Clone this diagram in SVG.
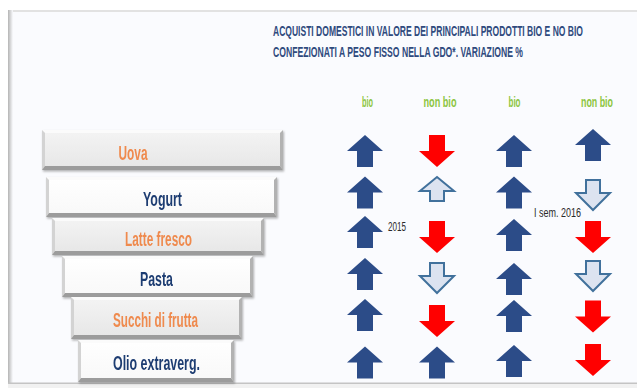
<svg xmlns="http://www.w3.org/2000/svg" width="637" height="388" viewBox="0 0 637 388">
  <defs>
    <linearGradient id="leftShade" x1="0" y1="0" x2="1" y2="0">
      <stop offset="0" stop-color="#b4b4b4"/>
      <stop offset="1" stop-color="#fafbfe"/>
    </linearGradient>
    <linearGradient id="faceGray" x1="0" y1="0" x2="0" y2="1">
      <stop offset="0" stop-color="#f4f4f4"/>
      <stop offset="1" stop-color="#e6e6e6"/>
    </linearGradient>
    <linearGradient id="faceWhite" x1="0" y1="0" x2="0" y2="1">
      <stop offset="0" stop-color="#ffffff"/>
      <stop offset="1" stop-color="#f8f8f8"/>
    </linearGradient>
    <filter id="soft" x="-5%" y="-10%" width="112%" height="130%">
      <feDropShadow dx="1" dy="1.5" stdDeviation="1" flood-color="#000" flood-opacity="0.3"/>
    </filter>
    <!-- arrow shapes, centred on the origin -->
    <path id="upSolid" d="M0,-16 L18,0 L8,0 L8,16 L-8,16 L-8,0 L-18,0 Z"/>
    <path id="downSolid" d="M0,16 L18,0 L8,0 L8,-16 L-8,-16 L-8,0 L-18,0 Z"/>
    <path id="upOutline" d="M0,-12 L17,2 L7,2 L7,12 L-7,12 L-7,2 L-17,2 Z"/>
    <path id="downOutline" d="M-7,-15 L7,-15 L7,-2 L17,-2 L0,15 L-17,-2 L-7,-2 Z"/>
  </defs>
  <style>
    .title { font-family: "Liberation Sans", Arial, sans-serif; font-size: 14.5px; font-weight: bold; fill: #2f4a7d; }
    .head { font-family: "Liberation Sans", Arial, sans-serif; font-size: 15px; font-weight: bold; fill: #8cc540; text-anchor: middle; }
    .lbl { font-family: "Liberation Sans", Arial, sans-serif; font-size: 20px; font-weight: bold; text-anchor: middle; }
    .orange { fill: #ef8a4e; }
    .navy { fill: #1f3d72; }
    .year { font-family: "Liberation Sans", Arial, sans-serif; font-size: 12.5px; fill: #2a2a2a; }
    .bTop { fill: #fbfbfb; }
    .bLeft { fill: #d3d3d3; }
    .bRight { fill: #b2b2b2; }
    .bBot { fill: #9c9c9c; }
    .up { fill: #2c4c88; }
    .down { fill: #ff0000; }
    .hollow { fill: #dce3f0; stroke: #41719c; stroke-width: 2; stroke-linejoin: miter; }
  </style>

  <!-- page and panel -->
  <rect x="0" y="0" width="637" height="388" fill="#ffffff"/>
  <rect x="8" y="10" width="629" height="374" fill="#fafbfe"/>
  <rect x="8" y="10" width="629" height="2" fill="#e2e2e2"/>
  <rect x="8" y="10" width="5" height="374" fill="url(#leftShade)"/>
  <rect x="8" y="382.5" width="629" height="1.5" fill="#c4c4c4"/>
  <rect x="8" y="384" width="629" height="4" fill="#f1f1f1"/>

  <!-- heading, squeezed horizontally -->
  <g id="title">
    <text class="title" transform="translate(273,36) scale(0.5,1)" x="0" y="0" textLength="620" lengthAdjust="spacingAndGlyphs">ACQUISTI DOMESTICI IN VALORE DEI PRINCIPALI  PRODOTTI BIO E NO BIO</text>
    <text class="title" transform="translate(273,57) scale(0.5,1)" x="0" y="0" textLength="500" lengthAdjust="spacingAndGlyphs">CONFEZIONATI A PESO FISSO NELLA GDO*.  VARIAZIONE %</text>
  </g>

  <!-- column headers -->
  <g id="headers">
    <text class="head" x="367.5" y="107" textLength="11" lengthAdjust="spacingAndGlyphs">bio</text>
    <text class="head" x="440" y="107" textLength="33" lengthAdjust="spacingAndGlyphs">non bio</text>
    <text class="head" x="514.5" y="107" textLength="12" lengthAdjust="spacingAndGlyphs">bio</text>
    <text class="head" x="597" y="107" textLength="32" lengthAdjust="spacingAndGlyphs">non bio</text>
  </g>

  <!-- product boxes -->
  <g id="uova" filter="url(#soft)">
    <rect x="42" y="130" width="241" height="40" fill="url(#faceGray)"/>
    <polygon class="bTop" points="42,130 283,130 280,133 45,133"/>
    <polygon class="bLeft" points="42,130 45,133 45,166 42,170"/>
    <polygon class="bRight" points="283,130 283,170 280,166 280,133"/>
    <polygon class="bBot" points="42,170 283,170 280,166 45,166"/>
    <text class="lbl orange" x="133" y="160" textLength="29" lengthAdjust="spacingAndGlyphs">Uova</text>
  </g>
  <g id="yogurt" filter="url(#soft)">
    <rect x="46" y="177" width="231" height="40" fill="url(#faceWhite)"/>
    <polygon class="bTop" points="46,177 277,177 274,180 49,180"/>
    <polygon class="bLeft" points="46,177 49,180 49,213 46,217"/>
    <polygon class="bRight" points="277,177 277,217 274,213 274,180"/>
    <polygon class="bBot" points="46,217 277,217 274,213 49,213"/>
    <text class="lbl navy" x="162.5" y="206" textLength="39" lengthAdjust="spacingAndGlyphs">Yogurt</text>
  </g>
  <g id="latte-fresco" filter="url(#soft)">
    <rect x="52" y="218" width="212" height="37" fill="url(#faceGray)"/>
    <polygon class="bTop" points="52,218 264,218 261,221 55,221"/>
    <polygon class="bLeft" points="52,218 55,221 55,251 52,255"/>
    <polygon class="bRight" points="264,218 264,255 261,251 261,221"/>
    <polygon class="bBot" points="52,255 264,255 261,251 55,251"/>
    <text class="lbl orange" x="158.5" y="246" textLength="67" lengthAdjust="spacingAndGlyphs">Latte fresco</text>
  </g>
  <g id="pasta" filter="url(#soft)">
    <rect x="62" y="256" width="191" height="41" fill="url(#faceWhite)"/>
    <polygon class="bTop" points="62,256 253,256 250,259 65,259"/>
    <polygon class="bLeft" points="62,256 65,259 65,293 62,297"/>
    <polygon class="bRight" points="253,256 253,297 250,293 250,259"/>
    <polygon class="bBot" points="62,297 253,297 250,293 65,293"/>
    <text class="lbl navy" x="156.5" y="286" textLength="33" lengthAdjust="spacingAndGlyphs">Pasta</text>
  </g>
  <g id="succhi-di-frutta" filter="url(#soft)">
    <rect x="71" y="297" width="171" height="42" fill="url(#faceGray)"/>
    <polygon class="bTop" points="71,297 242,297 239,300 74,300"/>
    <polygon class="bLeft" points="71,297 74,300 74,335 71,339"/>
    <polygon class="bRight" points="242,297 242,339 239,335 239,300"/>
    <polygon class="bBot" points="71,339 242,339 239,335 74,335"/>
    <text class="lbl orange" x="155.5" y="327" textLength="85" lengthAdjust="spacingAndGlyphs">Succhi di frutta</text>
  </g>
  <g id="olio-extraverg" filter="url(#soft)">
    <rect x="78" y="340" width="156" height="42" fill="url(#faceWhite)"/>
    <polygon class="bTop" points="78,340 234,340 231,343 81,343"/>
    <polygon class="bLeft" points="78,340 81,343 81,378 78,382"/>
    <polygon class="bRight" points="234,340 234,382 231,378 231,343"/>
    <polygon class="bBot" points="78,382 234,382 231,378 81,378"/>
    <text class="lbl navy" x="156.5" y="370" textLength="87" lengthAdjust="spacingAndGlyphs">Olio extraverg.</text>
  </g>

  <!-- period labels -->
  <g id="periods">
    <text class="year" x="388" y="231" textLength="18" lengthAdjust="spacingAndGlyphs">2015</text>
    <text class="year" x="534" y="217" textLength="47" lengthAdjust="spacingAndGlyphs">I sem. 2016</text>
  </g>

  <!-- change indicators: bio / non bio for 2015, then bio / non bio for I sem. 2016 -->
  <g id="arrows">
    <!-- Uova -->
    <use href="#upSolid" class="up" x="365" y="151"/>
    <use href="#downSolid" class="down" x="437" y="151"/>
    <use href="#upSolid" class="up" x="514" y="151"/>
    <use href="#upSolid" class="up" x="593" y="145"/>
    <!-- Yogurt -->
    <use href="#upSolid" class="up" x="365" y="192.5"/>
    <use href="#upOutline" class="hollow" x="437" y="189"/>
    <use href="#upSolid" class="up" x="514" y="192.5"/>
    <use href="#downOutline" class="hollow" x="593" y="195"/>
    <!-- Latte fresco -->
    <use href="#upSolid" class="up" x="365" y="232"/>
    <use href="#downSolid" class="down" x="437" y="237"/>
    <use href="#upSolid" class="up" x="514" y="235"/>
    <use href="#downSolid" class="down" x="593" y="237"/>
    <!-- Pasta -->
    <use href="#upSolid" class="up" x="365" y="274"/>
    <use href="#downOutline" class="hollow" x="437" y="278"/>
    <use href="#upSolid" class="up" x="514" y="279"/>
    <use href="#downOutline" class="hollow" x="593" y="276"/>
    <!-- Succhi di frutta -->
    <use href="#upSolid" class="up" x="365" y="315"/>
    <use href="#downSolid" class="down" x="437" y="321"/>
    <use href="#upSolid" class="up" x="514" y="316"/>
    <use href="#downSolid" class="down" x="593" y="316.5"/>
    <!-- Olio extraverg. -->
    <use href="#upSolid" class="up" x="365" y="362.5"/>
    <use href="#upSolid" class="up" x="437" y="362.5"/>
    <use href="#upSolid" class="up" x="514" y="361"/>
    <use href="#downSolid" class="down" x="593" y="360"/>
  </g>
</svg>
